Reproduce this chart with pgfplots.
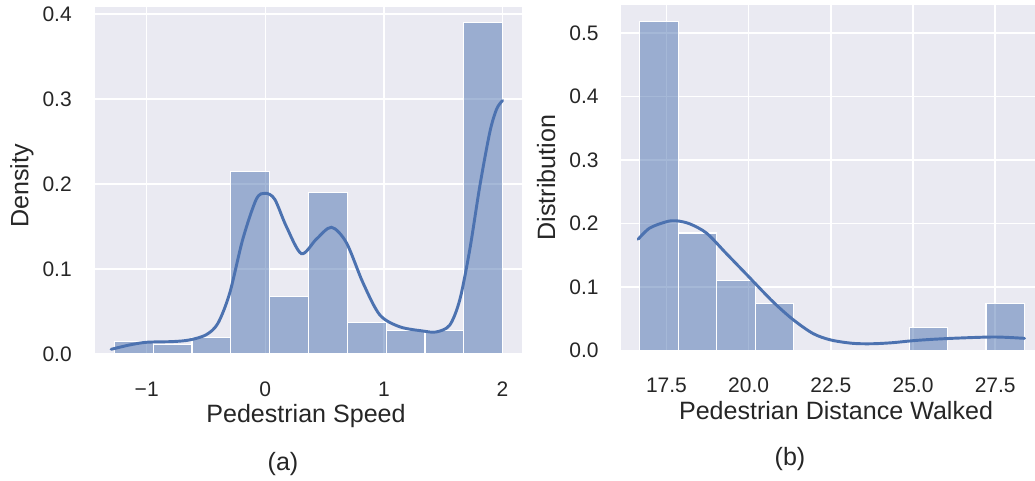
\documentclass[border=0pt]{standalone}
\usepackage{fontspec}
\setmainfont{Liberation Sans}
\usepackage{pgfplots}
\pgfplotsset{compat=1.18}
\definecolor{bgc}{HTML}{EAEAF2}
\definecolor{sblue}{HTML}{4C72B0}
\definecolor{txt}{HTML}{262626}
\newcommand\ticksize{\fontsize{15.75}{18}\selectfont}
\newcommand\labsize{\fontsize{18.8}{22}\selectfont}
\pgfplotsset{
  sb/.style={
    scale only axis,
    anchor=south west,
    axis background/.style={fill=bgc},
    axis line style={draw=none},
    grid=major,
    major grid style={white, line width=1.1pt},
    tick style={draw=none},
    ticklabel style={color=txt, font=\ticksize},
    xticklabel style={inner sep=0pt, anchor=north},
    yticklabel style={inner sep=0pt, anchor=east},
  },
  bars/.style={ybar interval, fill=sblue, fill opacity=0.5, draw=white, draw opacity=1, line width=0.8pt},
  kde/.style={sblue, line width=2.2pt, smooth, tension=0.5, line cap=round},
}
\begin{document}
\begin{tikzpicture}
\path[use as bounding box] (0,0) rectangle (776.25pt,360.75pt);
% ---------- (a) ----------
\begin{axis}[sb,
  at={(71.25pt,95.25pt)},
  width=320.25pt, height=260.25pt,
  xmin=-1.436, xmax=2.164, ymin=0, ymax=0.408,
  xtick={-1,0,1,2}, xticklabels={−1,0,1,2},
  ytick={0,0.1,0.2,0.3,0.4}, yticklabels={0.0,0.1,0.2,0.3,0.4},
  xticklabel style={yshift=-21pt},
  yticklabel style={xshift=-17.25pt},
]
\addplot[bars] coordinates {
(-1.272,0.0146) (-0.945,0.0107) (-0.618,0.0194) (-0.290,0.2148) (0.037,0.0674)
(0.364,0.1900) (0.691,0.0375) (1.018,0.0272) (1.346,0.0272) (1.673,0.3897) (2.000,0.3897)};
\addplot[kde] coordinates {
(-1.30,0.0055) (-1.145,0.0106) (-1.0,0.0138) (-0.78,0.0146) (-0.64,0.0165) (-0.50,0.0225)
(-0.40,0.036) (-0.30,0.0717) (-0.19,0.135) (-0.076,0.182) (0,0.189) (0.079,0.182)
(0.177,0.150) (0.304,0.118) (0.43,0.135) (0.557,0.149) (0.683,0.131) (0.824,0.0835)
(0.965,0.046) (1.133,0.032) (1.33,0.027) (1.443,0.026) (1.555,0.034) (1.64,0.064)
(1.724,0.123) (1.809,0.198) (1.893,0.261) (1.95,0.288) (2.0,0.298)};
\end{axis}
% ---------- (b) ----------
\begin{axis}[sb,
  at={(465.5pt,97.7pt)},
  width=310.75pt, height=259.3pt,
  xmin=16.107, xmax=28.71, ymin=0, ymax=0.544,
  xtick={17.5,20,22.5,25,27.5}, xticklabels={17.5,20.0,22.5,25.0,27.5},
  ytick={0,0.1,0.2,0.3,0.4,0.5}, yticklabels={0.0,0.1,0.2,0.3,0.4,0.5},
  xticklabel style={yshift=-20.5pt},
  yticklabel style={xshift=-16.3pt},
]
\addplot[bars] coordinates {
(16.69,0.5185) (17.86,0.1852) (19.03,0.1111) (20.20,0.0741) (21.37,0) (22.54,0)
(23.71,0) (24.88,0.0370) (26.05,0) (27.22,0.0741) (28.39,0.0741)};
\addplot[kde] coordinates {
(16.64,0.1755) (16.99,0.193) (17.5,0.203) (17.80,0.2045) (18.21,0.1996) (18.72,0.185)
(19.32,0.153) (20.0,0.1166) (20.74,0.077) (21.35,0.049) (21.96,0.027) (22.5,0.0169)
(23.17,0.0116) (23.78,0.011) (24.39,0.0127) (25.0,0.0158) (25.61,0.018) (26.42,0.02)
(27.5,0.0216) (28.39,0.0195)};
\end{axis}
% ---------- labels ----------
\node[rotate=90, anchor=base, text=txt, font=\labsize, inner sep=0pt] at (21.2pt,221.25pt) {Density};
\node[anchor=base, text=txt, font=\labsize, inner sep=0pt] at (229.5pt,43.5pt) {Pedestrian Speed};
\node[anchor=base, text=txt, font=\labsize, inner sep=0pt] at (212.25pt,7.5pt) {(a)};
\node[rotate=90, anchor=base, text=txt, font=\labsize, inner sep=0pt] at (416.25pt,227.6pt) {Distribution};
\node[anchor=base, text=txt, font=\labsize, inner sep=0pt] at (627pt,45.75pt) {Pedestrian Distance Walked};
\node[anchor=base, text=txt, font=\labsize, inner sep=0pt] at (592.5pt,11.25pt) {(b)};
\end{tikzpicture}
\end{document}
